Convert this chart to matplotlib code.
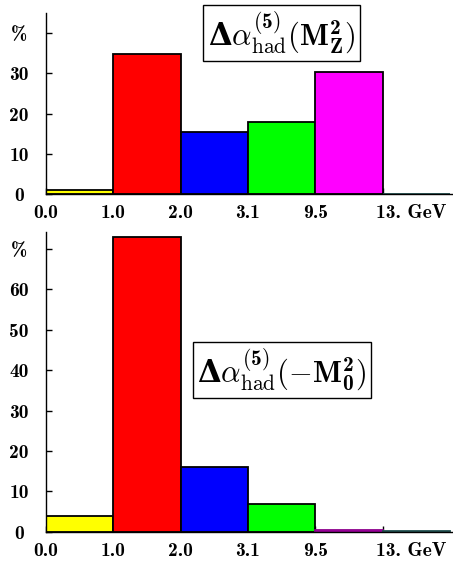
import matplotlib
matplotlib.use('Agg')
import matplotlib.pyplot as plt
import matplotlib.transforms as mtrans
from matplotlib.colors import to_rgb

# Computer Modern look: cmb10 for bold, DejaVu Serif bold only for the bold Delta
plt.rcParams['mathtext.fontset'] = 'custom'
plt.rcParams['mathtext.bf'] = 'cmb10'
plt.rcParams['mathtext.rm'] = 'cmr10'
plt.rcParams['mathtext.it'] = 'cmmi10'
plt.rcParams['mathtext.sf'] = 'DejaVu Serif:bold'

# energy bin edges (GeV), equally spaced on the plot
edge_labels = ['0.0', '1.0', '2.0', '3.1', '9.5', '13. GeV']
colors = ['#ffff00', '#ff0000', '#0000ff', '#00ff00', '#ff00ff', '#3a8f8f']

# contribution in % per energy bin
pct_mz = [0.9, 34.9, 15.3, 17.9, 30.3, 0.1]
pct_m0 = [3.9, 72.9, 16.1, 6.8, 0.3, 0.1]

ticks_mz = [0, 10, 20, 30, 40]
ticks_m0 = [0, 10, 20, 30, 40, 50, 60, 70]

title_mz = r'$\mathsf{\Delta}\alpha^{(\mathbf{5})}_{\mathrm{had}}(\mathbf{M}^{\mathbf{2}}_{\mathbf{Z}})$'
title_m0 = r'$\mathsf{\Delta}\alpha^{(\mathbf{5})}_{\mathrm{had}}(-\mathbf{M}^{\mathbf{2}}_{\mathbf{0}})$'

W, H = 453, 563
fig = plt.figure(figsize=(W / 100, H / 100), dpi=100)


def panel(rect, vals, yticks, ytop, title):
    ax = fig.add_axes(rect)
    for i, (v, c) in enumerate(zip(vals, colors)):
        # near-empty bins show only as a thin dark line of their colour
        ec = tuple(0.55 * x for x in to_rgb(c)) if v < 0.5 else 'black'
        ax.bar(i, v, width=1.0, align='edge', color=c, edgecolor=ec, lw=1.3,
               zorder=2)
    ax.set_xlim(0, 6.03)
    ax.set_ylim(0, ytop)
    for s in ('top', 'right'):
        ax.spines[s].set_visible(False)
    ax.spines['left'].set_linewidth(1.0)
    ax.spines['bottom'].set_linewidth(1.0)
    ax.spines['bottom'].set_zorder(3)

    ax.set_yticks(yticks)
    ylab = [str(t) for t in yticks]
    ylab[-1] = '%'
    ax.set_yticklabels(ylab, fontsize=14, family='cmb10', ha='center')
    ax.tick_params(axis='y', direction='in', length=4, width=1, pad=19.5)

    ax.set_xticks(range(len(edge_labels)))
    ax.set_xticklabels(edge_labels, fontsize=14, family='cmb10')
    ax.tick_params(axis='x', direction='in', length=4, width=1, pad=7.5)
    last = ax.get_xticklabels()[-1]
    last.set_transform(last.get_transform() +
                       mtrans.ScaledTranslation(29 / 100, 0, fig.dpi_scale_trans))

    ax.text(3.5, 40, title, fontsize=22, ha='center', va='center', zorder=5,
            bbox=dict(boxstyle='square,pad=0.15', fc='white', ec='black', lw=1))
    return ax


panel([46 / W, 1 - 194 / H, 406 / W, 181 / H], pct_mz, ticks_mz, 45, title_mz)
panel([46 / W, 1 - 531.7 / H, 406 / W, 299.7 / H], pct_m0, ticks_m0, 74.2, title_m0)

fig.savefig('out.png', dpi=100)
